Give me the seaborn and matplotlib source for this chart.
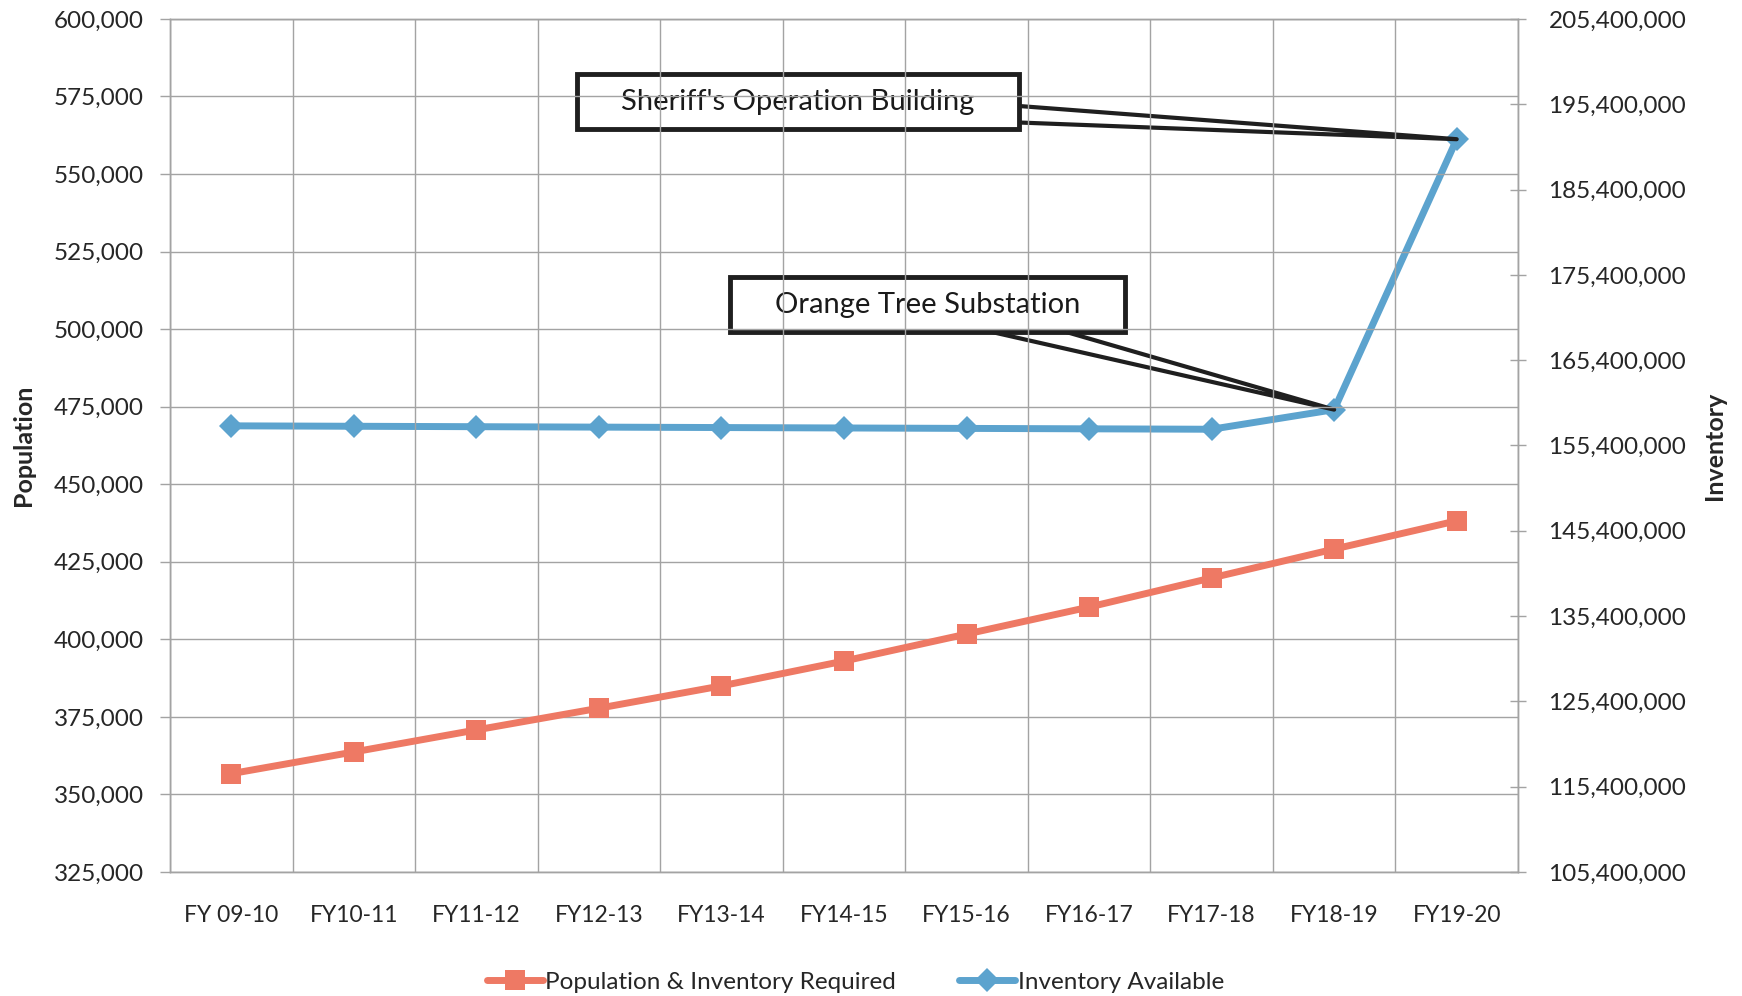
import matplotlib
matplotlib.use("Agg")
import matplotlib.pyplot as plt
import matplotlib.ticker as mticker
import numpy as np
import pandas as pd
import seaborn as sns

# ---- data ----
categories = ["FY 09-10", "FY10-11", "FY11-12", "FY12-13", "FY13-14", "FY14-15",
              "FY15-16", "FY16-17", "FY17-18", "FY18-19", "FY19-20"]
population = [356700, 363700, 370800, 377800, 385000, 393000,
              401700, 410400, 419800, 429100, 438200]
inventory = [157.70e6, 157.65e6, 157.60e6, 157.55e6, 157.50e6, 157.45e6,
             157.40e6, 157.35e6, 157.30e6, 159.60e6, 191.30e6]
left_ticks = list(range(325000, 600001, 25000))
right_ticks = [105.4e6 + 10e6 * i for i in range(11)]
annotations = [("Sheriff's Operation Building", "FY19-20"),
               ("Orange Tree Substation", "FY18-19")]

sns.set_style("white")
plt.rcParams['font.family'] = ['Lato', 'DejaVu Sans']

RED = "#EE7964"
BLUE = "#5CA3CE"
GRID = "#A3A3A3"
TXT = "#262626"

df = pd.DataFrame({"cat": categories, "x": np.arange(len(categories)),
                   "pop": population, "inv": inventory})

fig = plt.figure(figsize=(17.42, 9.96), dpi=100)
ax = fig.add_axes([0.0976, 0.1245, 0.8714 - 0.0976, 0.981 - 0.1245])
ax2 = ax.twinx()

sns.lineplot(data=df, x="x", y="pop", ax=ax, color=RED, lw=5, marker="s",
             markersize=15, markeredgewidth=0, label="Population & Inventory Required",
             legend=False)
sns.lineplot(data=df, x="x", y="inv", ax=ax2, color=BLUE, lw=5, marker="D",
             markersize=12, markeredgewidth=0, label="Inventory Available",
             legend=False)

n = len(categories)
ax.set_xlim(-0.5, n - 0.5)
ax.set_ylim(left_ticks[0], left_ticks[-1])
ax2.set_ylim(right_ticks[0], right_ticks[-1])

ax.set_xticks(np.arange(n))
ax.set_xticklabels(categories)
ax.set_xticks(np.arange(n + 1) - 0.5, minor=True)
ax.tick_params(axis="x", which="major", length=0, pad=24, labelsize=16.5, labelcolor=TXT)
ax.tick_params(axis="x", which="minor", length=9, color=GRID, width=1, direction="out")
ax.grid(True, axis="x", which="minor", color=GRID, lw=1)
ax.grid(False, axis="x", which="major")

ax.set_yticks(left_ticks)
ax.yaxis.set_major_formatter(mticker.StrMethodFormatter("{x:,.0f}"))
ax.tick_params(axis="y", length=7, color=GRID, width=1, direction="out",
               labelsize=17.5, labelcolor=TXT, pad=12, left=True)
ax.grid(True, axis="y", which="major", color=GRID, lw=1)

ax2.set_yticks(right_ticks)
ax2.yaxis.set_major_formatter(mticker.StrMethodFormatter("{x:,.0f}"))
ax2.tick_params(axis="y", length=12, color=GRID, width=1, direction="inout",
                labelsize=17.5, labelcolor=TXT, pad=16, right=True)
ax2.grid(False)

for a in (ax, ax2):
    for s in a.spines.values():
        s.set_color(GRID)
        s.set_linewidth(1)

ax.set_xlabel("")
ax.set_ylabel("Population", fontsize=18, fontweight="bold", color=TXT)
ax.yaxis.set_label_coords(-0.1005, 0.5)
ax2.set_ylabel("Inventory", fontsize=18, fontweight="bold", color=TXT, rotation=90)
ax2.yaxis.set_label_coords(1.137, 0.5)

ax.set_zorder(ax2.get_zorder() + 1)
ax.patch.set_visible(False)

# annotations with wedge callouts
text_pos = [(0.466, 0.903), (0.562, 0.665)]
for (label, cat), (tx, ty) in zip(annotations, text_pos):
    i = categories.index(cat)
    ax2.annotate("    " + label + "    ", xy=(i, inventory[i]), xycoords="data",
                 xytext=(tx, ty), textcoords=ax.transAxes,
                 ha="center", va="center", fontsize=21, color="#1a1a1a", zorder=10,
                 bbox=dict(boxstyle="square,pad=0.5", fc="white", ec="#1f1f1f", lw=3.5),
                 arrowprops=dict(arrowstyle="wedge,tail_width=0.85,shrink_factor=0.5",
                                 fc="white", ec="#1f1f1f", lw=3,
                                 patchA=None, shrinkA=0, shrinkB=0))

h1, l1 = ax.get_legend_handles_labels()
h2, l2 = ax2.get_legend_handles_labels()
fig.legend(h1 + h2, l1 + l2, loc="center", bbox_to_anchor=(0.491, 0.014), ncol=2,
           frameon=False, fontsize=17.5, handlelength=2.3, columnspacing=2.6,
           handletextpad=0.1, labelcolor=TXT)

fig.savefig("out.png", dpi=100)
